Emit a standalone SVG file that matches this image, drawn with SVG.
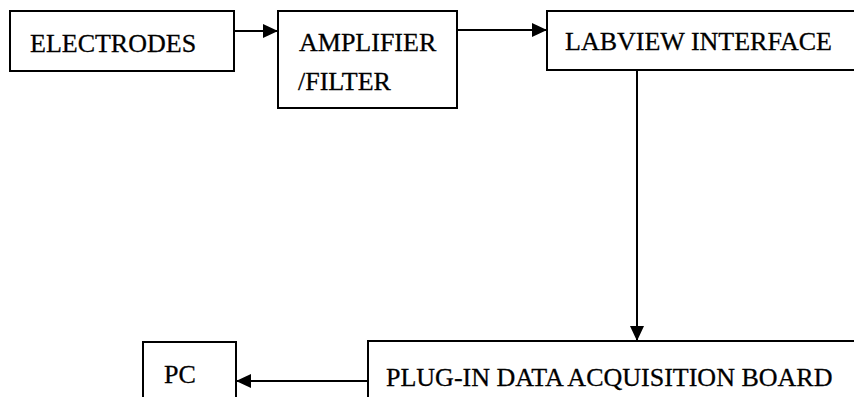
<svg xmlns="http://www.w3.org/2000/svg" width="854" height="397" viewBox="0 0 854 397">
<style>
.box{fill:#fff;stroke:#000;stroke-width:2}
.t{font-family:"Liberation Serif","Times New Roman",serif;font-size:26px;fill:#000;stroke:#000;stroke-width:0.3}
.c{stroke:#000;stroke-width:2;fill:none}
</style>
<defs>
<marker id="ah" viewBox="0 0 15 14" refX="15" refY="7" markerWidth="15" markerHeight="14" markerUnits="userSpaceOnUse" orient="auto">
<path d="M0,0 L15,7 L0,14 Z" fill="#000"/>
</marker>
</defs>
<rect width="854" height="397" fill="#fff"/>
<g id="electrodes"><rect class="box" x="10" y="11" width="224" height="60"/><text class="t" x="30" y="52">ELECTRODES</text></g>
<g id="amplifier"><rect class="box" x="278" y="11" width="179" height="97"/><text class="t" x="299" y="51">AMPLIFIER</text><text class="t" x="298" y="90">/FILTER</text></g>
<g id="labview"><rect class="box" x="547" y="11" width="320" height="59"/><text class="t" x="565" y="50">LABVIEW INTERFACE</text></g>
<g id="daq"><rect class="box" x="368" y="341" width="500" height="70"/><text class="t" x="386" y="386">PLUG-IN DATA ACQUISITION BOARD</text></g>
<g id="pc"><rect class="box" x="143" y="342" width="93" height="70"/><text class="t" x="164" y="383">PC</text></g>
<g id="connectors">
<line class="c" x1="234" y1="31" x2="278" y2="31" marker-end="url(#ah)"/>
<line class="c" x1="457" y1="30" x2="547" y2="30" marker-end="url(#ah)"/>
<line class="c" x1="637" y1="70" x2="637" y2="341" marker-end="url(#ah)"/>
<line class="c" x1="368" y1="381" x2="236" y2="381" marker-end="url(#ah)"/>
</g>
</svg>
